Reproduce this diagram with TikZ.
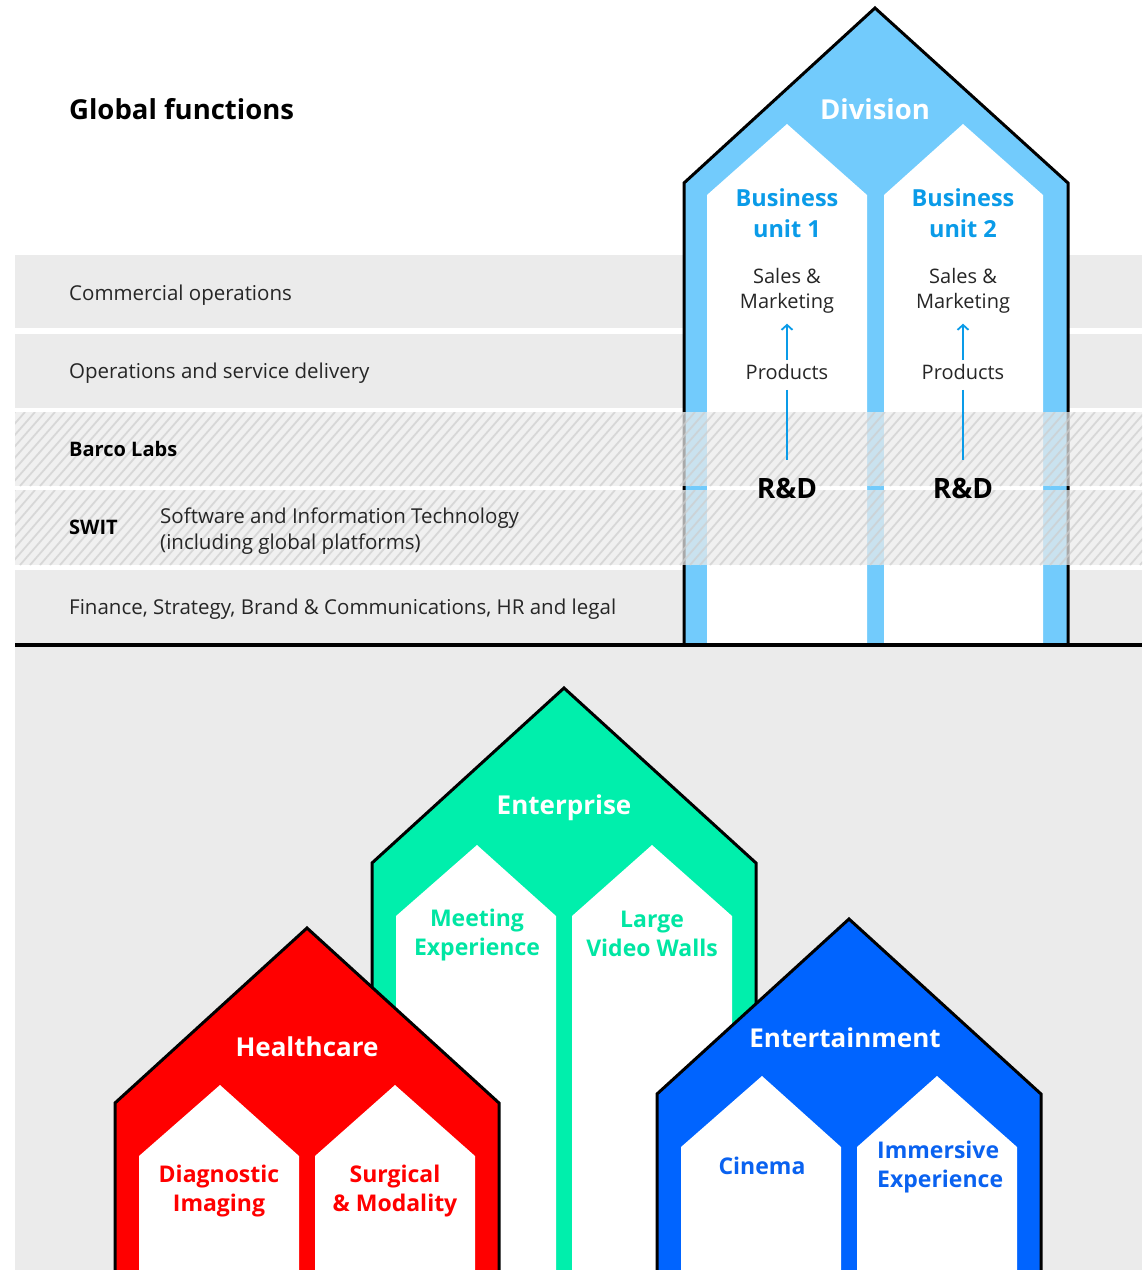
\documentclass[tikz,border=0pt]{standalone}
\usepackage{fontspec}
\setmainfont{Open Sans}
\usetikzlibrary{arrows.meta}
\definecolor{bandgray}{HTML}{EBEBEB}
\definecolor{stripecol}{HTML}{CDCDCD}
\definecolor{divblue}{HTML}{72CBFC}
\definecolor{butext}{HTML}{0A9BE8}
\definecolor{entgreen}{HTML}{00EFAC}
\definecolor{entgreentext}{HTML}{00E6A3}
\definecolor{hcred}{HTML}{FF0000}
\definecolor{etblue}{HTML}{0064FF}
\definecolor{etbluetext}{HTML}{0A62F0}
\tikzset{
  pics/house/.style={code={
    \fill[#1] (-192,700) -- (-192,175) -- (0,0) -- (192,175) -- (192,700) -- cycle;
    \fill[white] (-168,700) -- (-168,228) -- (-87,157) -- (-8,228) -- (-8,700) -- cycle;
    \fill[white] (8,700) -- (8,228) -- (88,157) -- (168,228) -- (168,700) -- cycle;
    \draw[line width=3, miter limit=10] (-192,700) -- (-192,175) -- (0,0) -- (192,175) -- (192,700);
  }},
  bandlabel/.style={anchor=west, inner sep=0, font=\fontsize{20.5}{26}\selectfont, text=black!85},
  bandbold/.style={anchor=west, inner sep=0, font=\fontsize{20}{26}\selectfont\bfseries, text=black},
  roof/.style={inner sep=0, text=white, font=\fontsize{26}{34}\selectfont\bfseries},
  unitlbl/.style={inner sep=0, align=center, font=\fontsize{23}{29}\selectfont\bfseries},
  smallblack/.style={inner sep=0, align=center, text=black!85, font=\fontsize{20}{25}\selectfont},
  flow/.style={butext, line width=1.8},
}
\begin{document}
\begin{tikzpicture}[x=1pt, y=-1pt]
\useasboundingbox (0,0) rectangle (1144,1270);
\fill[white] (0,0) rectangle (1144,1270);

% plain bands behind the division house
\fill[bandgray] (15,255) rectangle (1142,328);
\fill[bandgray] (15,334) rectangle (1142,408);
\fill[bandgray] (15,570) rectangle (1142,643);

% division house
\fill[divblue] (684,645) -- (684,183) -- (875,8) -- (1068,183) -- (1068,645) -- cycle;
\fill[white] (707,645) -- (707,195) -- (787,124) -- (867,195) -- (867,645) -- cycle;
\fill[white] (884,645) -- (884,195) -- (963,124) -- (1043,195) -- (1043,645) -- cycle;
\draw[line width=3, miter limit=10] (684,645) -- (684,183) -- (875,8) -- (1068,183) -- (1068,645);

% hatched bands (semi-transparent overlay)
\foreach \t/\b in {412/486, 490/565}{
  \begin{scope}
    \clip (15,\t) rectangle (1142,\b);
    \fill[bandgray, opacity=.72] (15,\t) rectangle (1142,\b);
    \foreach \x in {-80,-70,...,1150}{
      \draw[stripecol, line width=1.8, opacity=.7] (\x,\b) -- (\x+65,\t);
    }
  \end{scope}
}

% separating black line
\draw[line width=3.5] (15,645) -- (1142,645);

% lower region
\fill[bandgray] (15,647) rectangle (1142,1270);
\pic at (564,688) {house=entgreen};
\pic at (307,928) {house=hcred};
\pic at (849,919) {house=etblue};

% texts top-left
\node[anchor=west, inner sep=0, font=\fontsize{27.5}{32}\selectfont\bfseries] (gf) at (69,109) {Global functions};
\node[bandlabel] (co) at (69,295) {Commercial operations};
\node[bandlabel] (os) at (69,373) {Operations and service delivery};
\node[bandbold] (bl) at (69,449) {Barco Labs};
\node[bandbold] (sw) at (69,527) {SWIT};
\node[bandlabel, align=left] (swd) at (160,531) {Software and Information Technology\\(including global platforms)};
\node[bandlabel] (fi) at (69,609) {Finance, Strategy, Brand \& Communications, HR and legal};

% division texts
\node[roof, font=\fontsize{27.5}{34}\selectfont\bfseries] (div) at (875,109) {Division};
\node[unitlbl, text=butext, font=\fontsize{23.5}{31}\selectfont\bfseries] (bu1) at (787,213) {Business\\unit 1};
\node[unitlbl, text=butext, font=\fontsize{23.5}{31}\selectfont\bfseries] (bu2) at (963,213) {Business\\unit 2};
\node[smallblack] (sm1) at (787,291) {Sales \&\\Marketing};
\node[smallblack] (sm2) at (963,291) {Sales \&\\Marketing};
\node[smallblack] (pr1) at (787,372) {Products};
\node[smallblack] (pr2) at (963,372) {Products};
\node[inner sep=0, font=\fontsize{28}{32}\selectfont\bfseries] (rd1) at (787,488) {R\&D};
\node[inner sep=0, font=\fontsize{28}{32}\selectfont\bfseries] (rd2) at (963,488) {R\&D};
\draw[flow, -{Straight Barb[length=5pt,width=11pt]}, shorten <=4pt, shorten >=10pt] (pr1) -- (sm1);
\draw[flow, -{Straight Barb[length=5pt,width=11pt]}, shorten <=4pt, shorten >=10pt] (pr2) -- (sm2);
\draw[flow, shorten <=10pt, shorten >=18pt] (pr1) -- (rd1);
\draw[flow, shorten <=10pt, shorten >=18pt] (pr2) -- (rd2);

% lower texts
\node[roof] (ent) at (564,808) {Enterprise};
\node[unitlbl, text=entgreentext] (me) at (477,935) {Meeting\\Experience};
\node[unitlbl, text=entgreentext] (lv) at (652,934) {Large\\Video Walls};
\node[roof] (hc) at (307,1047) {Healthcare};
\node[unitlbl, text=hcred] (di) at (219,1191) {Diagnostic\\Imaging};
\node[unitlbl, text=hcred] (sm) at (395,1191) {Surgical\\\& Modality};
\node[roof] (et) at (845,1038) {Entertainment};
\node[unitlbl, text=etbluetext] (ci) at (762,1166) {Cinema};
\node[unitlbl, text=etbluetext, align=left, anchor=west] (ie) at (877,1167) {Immersive\\Experience};
\end{tikzpicture}
\end{document}
